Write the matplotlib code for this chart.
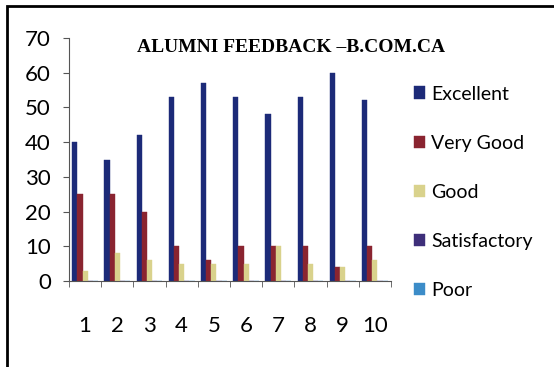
import matplotlib.pyplot as plt
import numpy as np
from matplotlib.patches import Rectangle

batches = ['1', '2', '3', '4', '5', '6', '7', '8', '9', '10']
series = ['Excellent', 'Very Good', 'Good', 'Satisfactory', 'Poor']
excellent = [40, 35, 42, 53, 57, 53, 48, 53, 60, 52]
very_good = [25, 25, 20, 10, 6, 10, 10, 10, 4, 10]
good = [3, 8, 6, 5, 5, 5, 10, 5, 4, 6]
satisfactory = [0, 0, 0, 0, 0, 0, 0, 0, 0, 0]
poor = [0, 0, 0, 0, 0, 0, 0, 0, 0, 0]
values = [excellent, very_good, good, satisfactory, poor]
colors = ['#1c2a78', '#8a2430', '#d9d28c', '#3e2f7a', '#3c8cc8']

fig = plt.figure(figsize=(5.54, 3.67), dpi=100)
ax = fig.add_axes([69/554, 1 - 281/367, 322/554, 243/367])

x = np.arange(len(batches))
w = 0.16
for i, (name, vals) in enumerate(zip(series, values)):
    ax.bar(x - 0.32 + i * w, vals, w, color=colors[i], label=name,
           edgecolor=colors[i], linewidth=0.3)

ax.set_xlim(-0.5, len(batches) - 0.5)
ax.set_ylim(0, 70)
ax.set_yticks(range(0, 71, 10))
ax.set_xticks(x)
ax.set_xticklabels(batches)
ax.set_xticks(np.arange(-0.5, len(batches)), minor=True)
ax.tick_params(axis='x', which='major', length=0, pad=25)
ax.tick_params(axis='x', which='minor', length=4, color='#555555')
ax.tick_params(axis='y', length=4, color='#555555', pad=9)
for lab in ax.get_xticklabels() + ax.get_yticklabels():
    lab.set_fontfamily('Lato')
    lab.set_fontsize(16)
for s in ['top', 'right']:
    ax.spines[s].set_visible(False)
ax.spines['left'].set_color('#555555')
ax.spines['bottom'].set_color('#555555')

fig.text(291/554, 1 - 47/367, 'ALUMNI FEEDBACK \u2013B.COM.CA', family='Liberation Serif',
         weight='bold', fontsize=14, ha='center', va='center')

leg = fig.legend(loc='upper left', bbox_to_anchor=(396/554, 1 - 68/367), frameon=False,
                 prop={'family': 'Lato', 'size': 14}, handlelength=0.6, handleheight=0.6,
                 handletextpad=0.3, labelspacing=1.65)

fig.patches.append(Rectangle((7/554, -0.1), 1.1, 1 - 6/367 + 0.1, transform=fig.transFigure,
                             fill=False, edgecolor='black', linewidth=2))

fig.savefig('out.png', dpi=100)
